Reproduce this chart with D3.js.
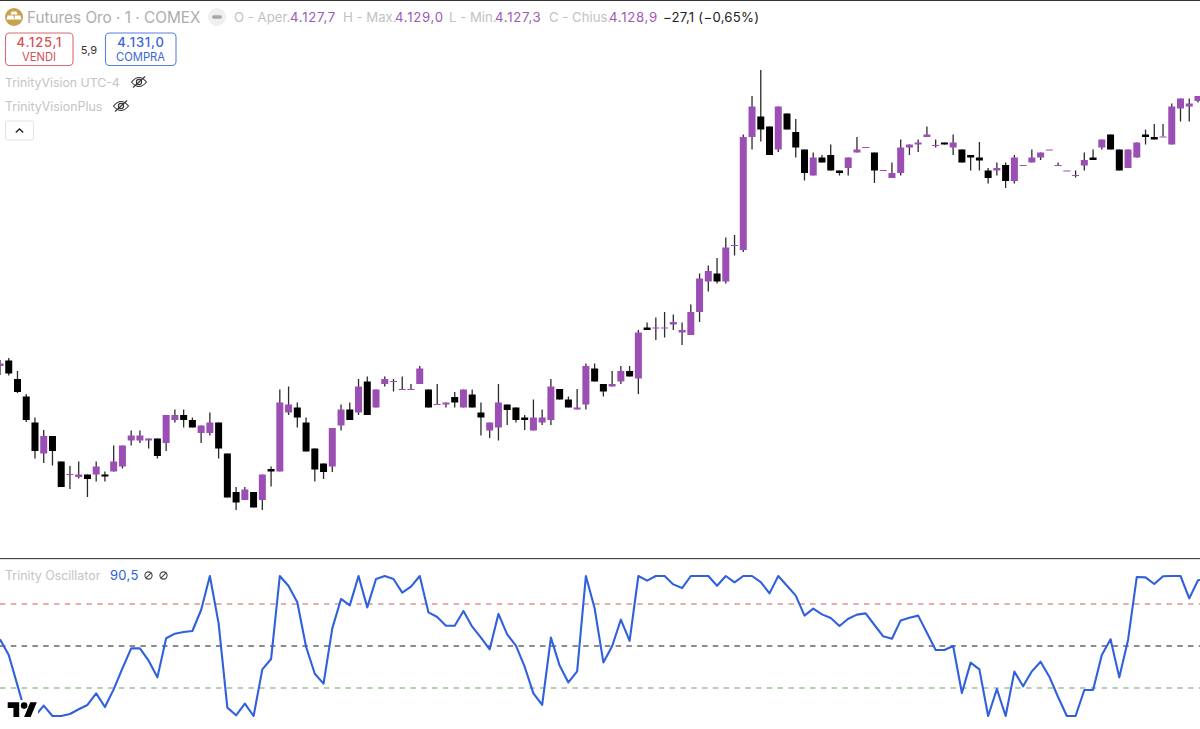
<!DOCTYPE html>
<html>
<head>
<meta charset="utf-8">
<script src="https://d3js.org/d3.v7.min.js"></script>
<style>
  html, body { margin: 0; background: #fff; }
  svg { display: block; font-family: Inter, "Noto Sans", sans-serif; }
</style>
</head>
<body>
<div class="root"></div>
<script>
const highs = [
  4076.5,4076.9,4074.3,4069.7,4065.0,4062.5,4061.3,4056.2,4055.3,4056.2,
  4053.6,4056.2,4054.2,4059.4,4059.4,4062.4,4062.4,4060.8,4060.8,4065.5,
  4066.6,4066.6,4065.0,4063.4,4066.0,4064.0,4057.8,4051.1,4051.1,4050.1,
  4053.6,4055.2,4070.6,4071.2,4068.0,4065.0,4058.8,4055.8,4062.9,4067.6,
  4068.0,4072.7,4073.2,4070.6,4073.2,4072.7,4073.2,4071.7,4075.3,4070.6,
  4071.7,4068.0,4070.1,4070.6,4070.6,4068.0,4064.0,4071.7,4067.6,4067.0,
  4065.5,4068.6,4066.6,4072.7,4070.7,4069.2,4070.7,4075.8,4075.8,4071.7,
  4074.3,4075.3,4075.3,4082.5,4084.0,4085.0,4086.1,4085.6,4084.0,4087.6,
  4093.8,4095.4,4096.9,4101.0,4101.5,4121.6,4129.3,4134.5,4123.2,4127.2,
  4125.8,4124.7,4118.6,4118.0,4117.5,4119.6,4114.4,4117.0,4121.1,4119.1,
  4118.0,4114.5,4116.0,4120.6,4119.6,4120.6,4123.2,4120.6,4120.0,4121.6,
  4118.6,4117.5,4120.1,4114.9,4116.0,4116.0,4117.5,4115.5,4118.6,4118.0,
  4118.6,4116.0,4114.4,4114.4,4118.0,4118.6,4120.6,4121.6,4118.6,4118.6,
  4120.0,4122.6,4123.7,4123.7,4127.8,4128.8,4128.8,4129.3
];
const lows = [
  4073.5,4073.4,4069.9,4064.1,4056.8,4055.9,4055.4,4051.1,4050.7,4052.8,
  4049.1,4052.2,4052.2,4054.2,4054.8,4059.4,4059.9,4058.8,4056.8,4058.3,
  4064.0,4063.0,4063.0,4059.9,4061.4,4056.8,4049.0,4046.5,4048.5,4047.0,
  4046.5,4051.2,4054.2,4065.5,4063.0,4058.2,4052.2,4052.7,4054.1,4062.4,
  4064.5,4065.5,4065.5,4067.0,4071.2,4070.2,4070.6,4070.6,4071.7,4067.0,
  4067.6,4067.0,4067.0,4067.0,4067.0,4061.4,4060.9,4060.4,4063.5,4064.0,
  4062.5,4062.4,4063.5,4063.5,4068.6,4067.0,4066.6,4066.6,4072.2,4069.2,
  4071.2,4071.7,4073.2,4069.7,4082.5,4080.5,4081.0,4082.5,4079.5,4081.5,
  4084.1,4090.2,4091.8,4091.8,4097.4,4098.1,4118.6,4120.2,4117.5,4118.1,
  4122.6,4117.0,4112.4,4113.4,4116.0,4114.4,4113.4,4113.4,4118.0,4119.1,
  4111.9,4114.5,4112.9,4113.4,4117.5,4118.1,4121.1,4119.0,4119.6,4117.5,
  4116.0,4114.4,4114.4,4111.8,4113.4,4110.9,4111.8,4115.5,4116.0,4116.5,
  4118.6,4115.5,4114.4,4113.0,4114.4,4116.5,4118.6,4118.6,4114.4,4114.9,
  4117.0,4119.6,4120.6,4121.2,4119.6,4124.2,4124.2,4128.0
];
const opens = [
  4075.3,4076.4,4072.7,4069.2,4064.0,4057.8,4061.3,4056.2,4053.7,4053.1,
  4053.6,4053.6,4053.6,4054.2,4055.2,4060.4,4060.4,4060.4,4060.8,4059.9,
  4064.5,4065.5,4064.5,4061.9,4061.9,4064.0,4057.8,4050.1,4048.5,4050.1,
  4048.5,4054.7,4054.2,4066.0,4067.0,4064.0,4058.8,4055.8,4055.2,4063.4,
  4066.6,4066.0,4072.2,4067.0,4071.7,4072.3,4070.7,4070.7,4071.7,4070.6,
  4067.7,4067.6,4069.1,4067.0,4069.6,4066.0,4062.4,4063.0,4067.6,4067.0,
  4065.0,4062.4,4064.0,4064.5,4070.7,4068.6,4066.6,4067.6,4074.8,4071.7,
  4071.2,4072.2,4074.3,4072.8,4083.0,4083.0,4083.0,4083.6,4082.0,4081.5,
  4086.1,4092.2,4093.8,4092.2,4099.5,4098.5,4121.1,4125.2,4123.2,4118.6,
  4125.8,4122.1,4118.6,4113.4,4117.0,4117.5,4114.4,4114.9,4118.0,4119.1,
  4118.0,4114.5,4112.9,4113.9,4119.0,4119.6,4121.1,4119.5,4120.0,4119.0,
  4118.6,4117.5,4117.0,4114.4,4114.4,4115.5,4112.3,4115.5,4116.0,4117.0,
  4118.6,4115.5,4114.4,4113.5,4115.4,4117.0,4119.0,4121.6,4118.6,4114.9,
  4117.0,4121.6,4121.1,4121.2,4119.6,4126.8,4127.2,4128.3
];
const closes = [
  4075.8,4073.8,4070.1,4064.5,4058.3,4061.3,4058.3,4051.1,4053.7,4053.6,
  4052.7,4055.2,4053.2,4056.2,4059.4,4061.4,4061.4,4060.8,4057.3,4065.5,
  4065.5,4064.5,4063.0,4063.4,4064.0,4058.8,4049.0,4048.0,4050.6,4047.0,
  4053.6,4054.2,4068.0,4067.6,4065.0,4058.2,4054.6,4054.1,4062.9,4066.6,
  4064.5,4071.2,4065.5,4070.6,4072.7,4072.3,4070.7,4070.7,4074.8,4067.0,
  4067.7,4068.0,4068.0,4070.6,4067.0,4065.0,4064.0,4068.0,4066.5,4064.5,
  4064.5,4065.0,4065.0,4071.2,4068.6,4067.0,4067.0,4075.3,4072.2,4070.2,
  4071.7,4074.3,4073.2,4082.0,4082.5,4083.0,4083.0,4084.1,4082.5,4086.1,
  4092.8,4094.3,4092.2,4099.0,4099.5,4121.1,4127.2,4122.6,4117.5,4127.2,
  4122.6,4119.0,4113.9,4117.0,4116.0,4114.4,4113.9,4117.0,4118.6,4119.1,
  4114.4,4114.5,4113.9,4119.0,4119.6,4120.0,4121.6,4119.5,4119.6,4120.0,
  4116.0,4117.0,4116.4,4112.9,4114.9,4112.3,4117.0,4115.5,4117.0,4118.0,
  4118.6,4115.5,4114.4,4113.5,4116.5,4116.5,4120.6,4118.6,4114.4,4118.6,
  4120.0,4121.1,4120.6,4121.2,4127.2,4128.8,4127.8,4129.3
];
const osc = [
  54.8,43.6,21.9,0,0,7.4,0,0,1.4,4.8,
  7.9,16.2,6.4,19,34,48.3,48.3,39.5,27.6,55.5,
  58.8,60,60.7,75.7,100,66.2,6,0.5,8.8,0,
  33.3,40.7,100,92.9,81.2,49.5,30.2,23.1,62.6,83.6,
  79,100,77.6,97.9,100,97.9,88.1,92.4,100,74,
  70.7,64.5,64.5,75,63.8,56,47.6,72.9,58.3,50.2,
  35.2,16.2,7.9,56,36,24,31.9,100,76.9,38.3,
  49.8,68.8,53.6,100,96.7,100,100,94,91.4,100,
  100,100,93,100,95.5,100,100,95.7,87.6,100,
  93,86,71.7,76.7,72.6,70,64.3,69.5,72.4,73.3,
  65,56.9,55.2,68.3,70.2,71.7,59.5,47.1,47.1,50,
  16.4,38.1,33.3,0,19.3,0,31.7,21.2,31.9,38.8,
  28.1,13.6,0,0,18.6,18.6,43.6,54.8,27.6,54.3,
  99.3,99,94.3,99.8,100,100,84,97,97.5
];
const oscLevels = [80, 50, 20];
const oscLevelColors = ["#e09590", "#666666", "#9cc296"];

const headerParts = [
  ["O - Aper.", 234, "#c2c2c2", 0], ["4.127,7", 290, "#9b59b6", 0.7],
  ["H - Max.", 343, "#c2c2c2", 0], ["4.129,0", 395, "#9b59b6", 0.7],
  ["L - Min.", 449, "#c2c2c2", 0], ["4.127,3", 495, "#9b59b6", 0.7],
  ["C - Chius.", 549, "#c2c2c2", 0], ["4.128,9", 609, "#9b59b6", 0.7],
  ["\u221227,1 (\u22120,65%)", 663, "#222", 0.25]
];

const width = 1200;
const height = 729;
const up = "#9b4fb5";
const blue = "#3060dc";

const svg = d3.select("div.root").append("svg")
  .attr("width", width)
  .attr("height", height);

const x = d3.scaleLinear().domain([0, 137]).range([0, 1198]);
// 5 px per dollar, read from the high and low of the session
const y = d3.scaleLinear().domain([4148.5, 4037.0]).range([0, 557.5]);
const yOsc = d3.scaleLinear().domain([0, 100]).range([716, 576]);

const bars = highs.map((h, i) => ({ i, h, l: lows[i], o: opens[i], c: closes[i] }));
const barWidth = 7;

svg.append("g").selectAll("line").data(bars).enter().append("line")
  .attr("x1", d => x(d.i))
  .attr("x2", d => x(d.i))
  .attr("y1", d => y(d.h))
  .attr("y2", d => y(d.l))
  .attr("stroke", "#2b2b2b")
  .attr("stroke-width", 1.3);

svg.append("g").selectAll("rect").data(bars).enter().append("rect")
  .attr("x", d => x(d.i) - barWidth / 2)
  .attr("width", barWidth)
  .attr("y", d => y(Math.max(d.o, d.c)))
  .attr("height", d => Math.max(1, Math.abs(y(d.o) - y(d.c))))
  .attr("fill", d => (d.c >= d.o ? up : "#000"));

// frame lines
svg.append("rect").attr("width", width).attr("height", 1).attr("fill", "#333");
svg.append("rect").attr("y", 558).attr("width", width).attr("height", 1).attr("fill", "#444");
svg.append("rect").attr("y", 559).attr("width", width).attr("height", 1).attr("fill", "#e4e4e4");

// oscillator pane
svg.append("g").selectAll("line").data(oscLevels).enter().append("line")
  .attr("x1", 0)
  .attr("x2", width)
  .attr("y1", d => yOsc(d))
  .attr("y2", d => yOsc(d))
  .attr("stroke", (d, i) => oscLevelColors[i])
  .attr("stroke-width", 1.4)
  .attr("stroke-dasharray", "5.5 5.3");

const line = d3.line().x((d, i) => x(i)).y(d => yOsc(d));
svg.append("path")
  .attr("d", line(osc))
  .attr("fill", "none")
  .attr("stroke", blue)
  .attr("stroke-width", 2.1)
  .attr("stroke-linejoin", "round");

function label(txt, px, py, size, fill, anchor, weight, spacing) {
  return svg.append("text")
    .attr("x", px)
    .attr("y", py)
    .attr("font-size", size)
    .attr("fill", fill)
    .attr("text-anchor", anchor || "start")
    .attr("font-weight", weight || 400)
    .attr("letter-spacing", spacing || 0)
    .text(txt);
}

// tv logo over the line
svg.append("rect")
  .attr("x", 6).attr("y", 700).attr("width", 32).attr("height", 19).attr("fill", "#fff");
const logo = svg.append("g").attr("transform", "translate(7.7,696.6) scale(0.82)");
logo.append("path").attr("d", "M14 25H7V14H0V7h14v18zM28 25h-8l7.5-18h8L28 25z").attr("fill", "#000");
logo.append("circle").attr("cx", 20).attr("cy", 11).attr("r", 4).attr("fill", "#000");

// header
svg.append("circle").attr("cx", 14).attr("cy", 17).attr("r", 9).attr("fill", "#c9a24e");
svg.append("path").attr("d", "M11.5 11.5h5l1 3h-7zM7.5 15.5h5.8l.9 4H6.6zM14.9 15.5h5.5l1 4h-7z").attr("fill", "#fff");
label("Futures Oro \u00b7 1 \u00b7 COMEX", 27, 23, 15.3, "#adadad");
svg.append("circle").attr("cx", 217).attr("cy", 17).attr("r", 9).attr("fill", "#efefef");
svg.append("rect").attr("x", 212).attr("y", 15.2).attr("width", 10).attr("height", 3.6).attr("rx", 1.8).attr("fill", "#a8a8a8");
headerParts.forEach(p => label(p[0], p[1], 22, 13.2, p[2], "start", 400, p[3]));

// buy / sell boxes
svg.append("rect").attr("x", 5.5).attr("y", 33).attr("width", 67.5).attr("height", 32.5).attr("rx", 4)
  .attr("fill", "none").attr("stroke", "#dc6a70").attr("stroke-width", 1.1);
label("4.125,1", 39.4, 47, 13, "#d6505a", "middle", 500, 0.8);
label("VENDI", 39, 61, 11.2, "#d6505a", "middle");
label("5,9", 89, 54, 11, "#333", "middle");
svg.append("rect").attr("x", 105.5).attr("y", 33).attr("width", 70.5).attr("height", 32.5).attr("rx", 4)
  .attr("fill", "none").attr("stroke", "#5b82e0").attr("stroke-width", 1.1);
label("4.131,0", 140.9, 47, 13, "#3a66d8", "middle", 500, 0.8);
label("COMPRA", 140.5, 61, 11.2, "#3a66d8", "middle");

// indicator rows
label("TrinityVision UTC-4", 5, 87, 12.3, "#c4c4c4");
label("TrinityVisionPlus", 5, 111, 12.4, "#c4c4c4");
[[139, 82], [121, 106]].forEach(c => {
  const eye = svg.append("g")
    .attr("transform", `translate(${c})`)
    .attr("fill", "none")
    .attr("stroke", "#333")
    .attr("stroke-width", 1.1);
  eye.append("path").attr("d", "M-7.5 0Q0 -9 7.5 0Q0 9 -7.5 0Z");
  eye.append("circle").attr("r", 2.6);
  eye.append("path").attr("d", "M-6 5.5L6 -5.5");
});
svg.append("rect").attr("x", 5.5).attr("y", 121).attr("width", 28).attr("height", 19).attr("rx", 2)
  .attr("fill", "#fff").attr("stroke", "#e2e2e2");
svg.append("path").attr("d", "M15.8 132.5L19.5 129L23.2 132.5").attr("fill", "none").attr("stroke", "#222").attr("stroke-width", 1.4);

// oscillator legend
label("Trinity Oscillator", 5, 580, 12.4, "#c4c4c4");
label("90,5", 110, 580, 13, blue, "start", 400, 0.3);
[148.5, 163.5].forEach(cx => {
  const g = svg.append("g")
    .attr("transform", `translate(${cx},575.5)`)
    .attr("fill", "none")
    .attr("stroke", "#444")
    .attr("stroke-width", 1.1);
  g.append("circle").attr("r", 3.6);
  g.append("path").attr("d", "M-2.8 2.8L2.8 -2.8");
});
</script>
</body>
</html>
